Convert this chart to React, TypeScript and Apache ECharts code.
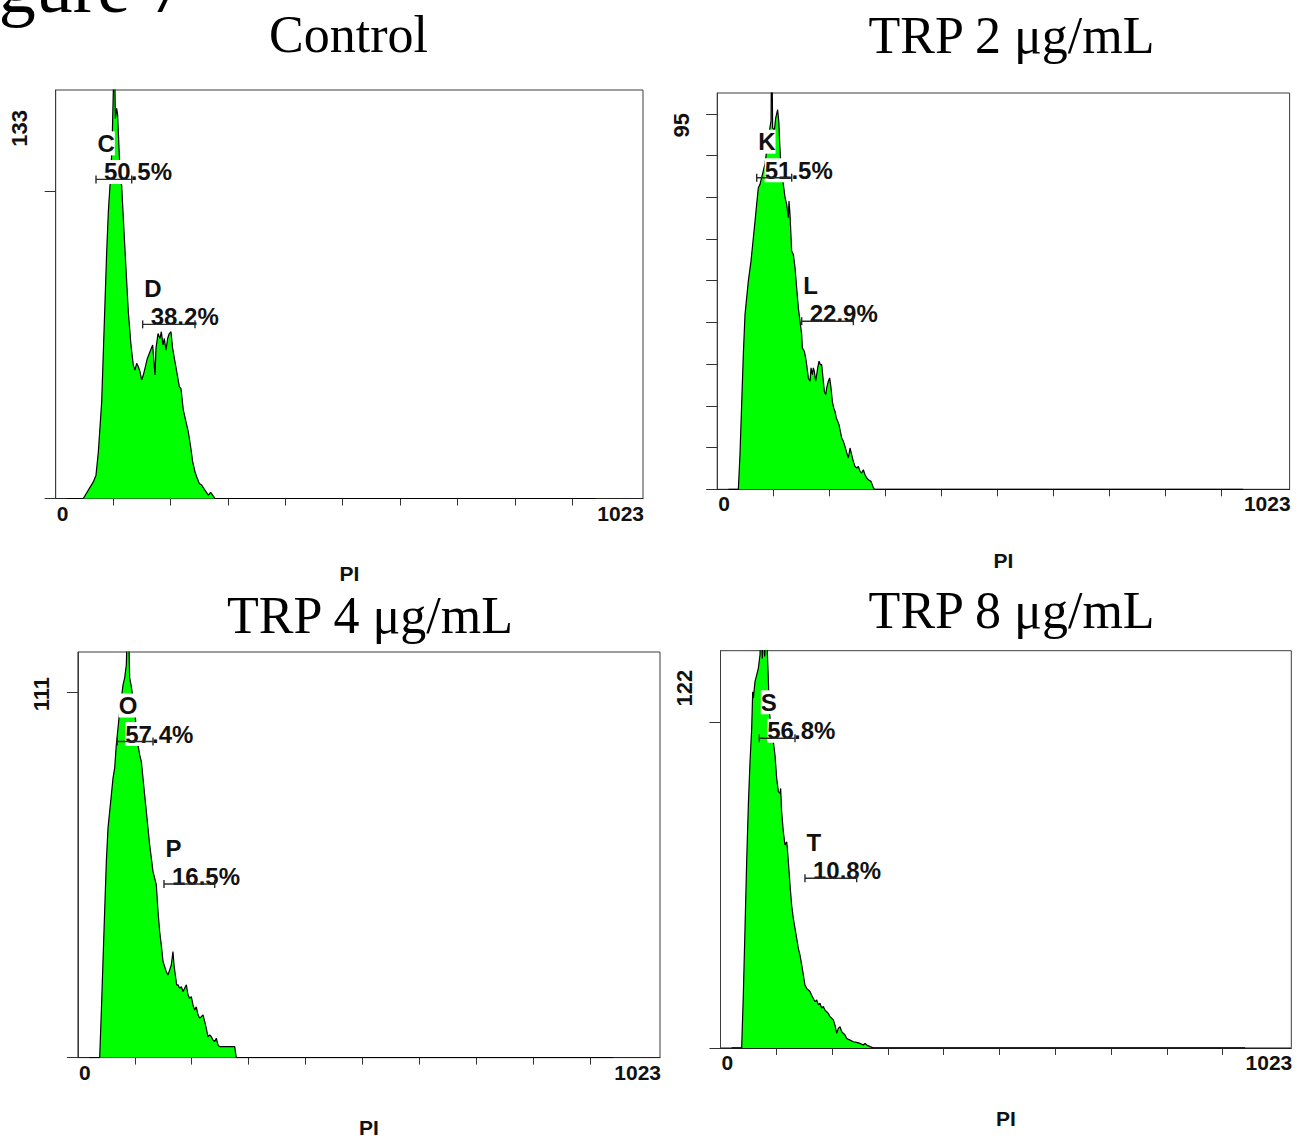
import React, { useEffect, useRef } from "react";
import * as echarts from "echarts";

// ---------------- data ----------------
const PANEL_TITLES = ["Control", "TRP 2 μg/mL", "TRP 4 μg/mL", "TRP 8 μg/mL"];
const FIGURE_LABEL = "Figure 7";
const AXIS_NAME = "PI";
const X_MIN = 0;
const X_MAX = 1023;
const X_TICKS = [100, 200, 300, 400, 500, 600, 700, 800, 900];
const X_TICK_LABELS = ["0", "1023"];
const Y_MAX = [133, 95, 111, 122];
const Y_TICKS = [
  [0, 100],
  [0, 10, 20, 30, 40, 50, 60, 70, 80, 90],
  [0, 100],
  [0, 100],
];

// [PI channel, count]
const controlHist = [
  [20, 0], [48, 0], [65.5, 5.4], [70.2, 7.6], [74.3, 15.2], [80.1, 31.5], [83, 47.8], [85.9, 64.1],
  [88.8, 80.3], [91.7, 93.4], [94.6, 102], [95.7, 103.1], [98.6, 118.3], [100.4, 133], [102.1, 150],
  [103.9, 123.7], [106.2, 127], [107.9, 124.8], [110.8, 111.8], [113.2, 103.1], [114.9, 102],
  [117.8, 91.2], [122.4, 74.9], [126.5, 60.8], [131.1, 50], [135.2, 43.4], [138.1, 41.8], [141, 44],
  [143.9, 42.9], [146.8, 41.3], [149.7, 38.6], [152.6, 40.2], [155.5, 42.4], [159.6, 45.6],
  [164.2, 47.8], [168.9, 50], [173, 40.2], [174.7, 48.9], [178.2, 53.7], [181.7, 52.1], [184, 54.3],
  [186.9, 50], [189.2, 52.1], [192.1, 48.3], [195, 52.1], [197.9, 53.7], [200.8, 54.3], [203.7, 48.9],
  [207.8, 44.5], [211.9, 40.2], [215.3, 36.4], [218.2, 35.8], [222.3, 28.8], [226.9, 25], [231, 21.7],
  [235.1, 16.8], [238.6, 12], [242.6, 8.7], [245.5, 7.1], [250.2, 4.9], [254.2, 4.4], [260, 2.7],
  [265.8, 1.1], [269.9, 2], [273.4, 1.1], [277.4, 0], [940, 0],
];

const trp2Hist = [
  [20, 0], [37.8, 0], [40.7, 8.3], [43.7, 20.3], [46.7, 32.3], [49.7, 41.9], [55.6, 49.9], [60.4, 54.7],
  [64.6, 60.3], [67.6, 64.3], [70.5, 68.3], [73.5, 72.3], [76.5, 73.1], [85.4, 78], [91.4, 84.3],
  [96.2, 88.3], [97.4, 110], [99.1, 86.7], [102.1, 85.9], [104.5, 89], [108, 91], [110.2, 88],
  [111.8, 82.7], [114, 77.1], [118.2, 73.1], [121.2, 70], [124.2, 68.3], [127.1, 65.1], [128.3, 69.1],
  [130.1, 65.9], [133.1, 57.1], [136.1, 56.3], [139.1, 53.1], [142, 48.3], [145, 43.5], [148, 40.3],
  [151, 37.1], [152.2, 33.9], [155.7, 33.1], [158.1, 31.5], [159.9, 29.9], [162.9, 26.7], [165.9, 25.9],
  [167.7, 29.1], [170, 27.5], [171.8, 29.1], [173.6, 28.3], [176, 25.9], [179.6, 29.1], [182, 30.7],
  [184.3, 29.9], [186.7, 29.9], [189.1, 26.7], [191.5, 23.5], [193.9, 22.7], [195.7, 24.3],
  [198.6, 25.9], [201, 26.7], [203.4, 24.3], [205.8, 21.1], [208.2, 19.5], [210.5, 18.7], [212.9, 17.1],
  [215.3, 16.3], [217.7, 15.5], [220.1, 13.9], [222.5, 12.3], [225.5, 11.5], [228.4, 10.3],
  [230.8, 9.1], [234.4, 7.5], [237.4, 9.9], [240.3, 8.3], [243.3, 6.7], [246.3, 5.5], [249.3, 5.1],
  [252.3, 5.5], [255.2, 4.3], [258.2, 3.9], [261.2, 4.7], [264.2, 3.5], [267.2, 2.7], [270.1, 2.3],
  [274.9, 1.9], [279.1, 0.4], [280.9, 0], [940, 0],
];

const trp4Hist = [
  [20, 0], [38.3, 0], [41.2, 12.6], [44.1, 26.3], [47, 40], [50, 53.7], [52.9, 62.8], [55.8, 67.3],
  [58.8, 71.9], [61.7, 76.5], [64.6, 79.2], [67.5, 85.6], [73.4, 94.7], [79.3, 102], [82.2, 103.9],
  [85.1, 107.5], [88, 125], [91, 103.9], [93.9, 101.6], [99.8, 94.7], [105.6, 85.6], [108.5, 82.9],
  [111.5, 81], [114.4, 76.5], [117.3, 71.9], [120.3, 67.3], [123.2, 62.8], [126.1, 58.2], [129.1, 54.6],
  [132, 50.9], [134.9, 49.1], [137.8, 47.3], [140.8, 40], [143.7, 34.5], [146.6, 30.8], [149.6, 26.3],
  [152.5, 24.9], [155.4, 23.5], [158.3, 22.6], [161.3, 24], [164.2, 25.4], [167.1, 29], [168.9, 25.4],
  [171.2, 22.6], [173.6, 19.9], [175.9, 19.9], [178.8, 19], [181.8, 19.4], [184.7, 18.1], [187.6, 19],
  [190.6, 19.9], [193.5, 17.2], [196.4, 16.2], [199.3, 16.7], [202.3, 14.4], [205.2, 13], [208.1, 13.9],
  [211.1, 11.7], [214, 10.8], [216.9, 11.2], [219.9, 11.7], [222.8, 9.9], [225.7, 8], [228.6, 5.7],
  [231.6, 6.2], [234.5, 5.7], [237.4, 4.8], [240.4, 4.4], [243.3, 5.3], [246.2, 3.5], [249.1, 3],
  [275.5, 3], [278.4, 0], [940, 0],
];

const trp8Hist = [
  [20, 0], [37.9, 0], [40.9, 16.2], [43.9, 36.7], [46.9, 57.2], [49.9, 74.6], [52.9, 87.9], [55.9, 98.1],
  [57.7, 109.4], [58.9, 107.4], [61.8, 112.5], [64.8, 114.5], [67.8, 116.6], [70.8, 120.7], [72.6, 130],
  [75, 119.6], [76.8, 130], [79.2, 120.2], [81.6, 130], [83.9, 121.7], [85.7, 113.5], [87.5, 103.3],
  [91.7, 97.1], [94.7, 94], [97.7, 89.9], [100.7, 82.8], [103.7, 78.7], [106.6, 78.2], [107.8, 79.7],
  [109.6, 72.5], [112.6, 66.4], [115.6, 62.3], [118.6, 63.3], [119.8, 61.3], [121.6, 57.2], [124.6, 50],
  [127.5, 43.9], [130.5, 39.8], [133.5, 36.7], [136.5, 33.7], [139.5, 30.6], [142.5, 28.5], [145.5, 25.5],
  [148.5, 22.4], [151.4, 19.3], [154.4, 18.3], [157.4, 17.8], [160.4, 17.3], [163.4, 16.2], [166.4, 15.2],
  [169.4, 14.2], [172.4, 14.7], [175.3, 13.2], [178.3, 13.7], [181.3, 12.2], [184.3, 12.7], [187.3, 11.6],
  [190.3, 11.1], [193.3, 10.6], [196.2, 9.6], [199.2, 9.1], [202.2, 8.6], [205.2, 7], [208.2, 4.5],
  [211.2, 6], [214.2, 6.5], [217.2, 5], [220.1, 4.5], [223.1, 4], [226.1, 2.9], [232.1, 2.4], [238.1, 1.9],
  [244, 1.7], [250, 1.4], [256, 0.9], [259, 1.4], [262, 0.9], [268, 0.4], [273.9, 0], [940, 0],
];

// gate markers: [letter, from channel, to channel, count level, percentage]
const controlGates = [["C", 70.2, 132.4, 103.9, "50.5%"], ["D", 151.5, 242.6, 56.7, "38.2%"]];
const trp2Gates = [["K", 70.6, 133.1, 74.7, "51.5%"], ["L", 151, 243.3, 40.3, "22.9%"]];
const trp4Gates = [["O", 69.2, 132, 86.5, "57.4%"], ["P", 151.3, 240.4, 47.5, "16.5%"]];
const trp8Gates = [["S", 69.5, 133.5, 95.1, "56.8%"], ["T", 151.4, 244.1, 52.1, "10.8%"]];

const HISTS = [controlHist, trp2Hist, trp4Hist, trp8Hist];
const GATES = [controlGates, trp2Gates, trp4Gates, trp8Gates];

// ---------------- layout / style ----------------
const GRID_BOXES = [
  { left: 55.7, top: 90, width: 587.3, height: 408.5 },
  { left: 717.2, top: 93, width: 572.4, height: 396.3 },
  { left: 77.9, top: 652, width: 582.1, height: 405.6 },
  { left: 720.5, top: 650.7, width: 570.8, height: 397.2 },
];
const TITLE_POS = [[348.5, 34], [1011.5, 35.4], [370, 615.7], [1011.6, 610.3]];
const NAME_GAP = [64, 61, 59, 60];
const Y_LABEL_DROP = [20, 20, 25, 19];
const SANS = '"Liberation Sans", Arial, sans-serif';
const SERIF = '"Liberation Serif", "Times New Roman", serif';
const GREEN = "#00ff00";

export default function App() {
  const ref = useRef<HTMLDivElement>(null);

  useEffect(() => {
    const el = ref.current;
    if (!el) return;
    const chart = echarts.init(el, null, { renderer: "svg" });

    const grid = GRID_BOXES.map((b) => ({
      left: b.left,
      top: b.top,
      width: b.width,
      height: b.height,
      show: true,
      borderColor: "#3c3c3c",
      borderWidth: 1,
      containLabel: false,
    }));

    const xAxis = GRID_BOXES.map((_, i) => ({
      type: "value",
      gridIndex: i,
      min: X_MIN,
      max: X_MAX,
      splitLine: { show: false },
      axisLine: { show: true, onZero: false, lineStyle: { color: "#222", width: 1 } },
      axisTick: { show: true, length: 7, customValues: X_TICKS, lineStyle: { color: "#333", width: 1 } },
      axisLabel: { show: false },
      name: AXIS_NAME,
      nameLocation: "middle",
      nameGap: NAME_GAP[i],
      nameTextStyle: { fontFamily: SANS, fontWeight: "bold", fontSize: 21, color: "#111" },
    }));

    const yAxis = GRID_BOXES.map((_, i) => ({
      type: "value",
      gridIndex: i,
      min: 0,
      max: Y_MAX[i],
      splitLine: { show: false },
      axisLine: { show: true, onZero: false, lineStyle: { color: "#3c3c3c", width: 1 } },
      axisTick: { show: true, length: 11, customValues: Y_TICKS[i], lineStyle: { color: "#333", width: 1 } },
      axisLabel: { show: false },
    }));

    const histSeries = HISTS.map((h, i) => ({
      type: "line",
      xAxisIndex: i,
      yAxisIndex: i,
      data: h,
      symbol: "none",
      showSymbol: false,
      clip: true,
      z: 2,
      lineStyle: { color: "#000", width: 1.2 },
      areaStyle: { color: GREEN, opacity: 1 },
    }));

    const gateSeries = GATES.map((gates, i) => ({
      type: "custom",
      xAxisIndex: i,
      yAxisIndex: i,
      z: 5,
      clip: false,
      data: gates.map((g) => [g[1], g[2], g[3]]),
      renderItem: (params: any, api: any) => {
        const gate = gates[params.dataIndex];
        const a = api.coord([api.value(0), api.value(2)]);
        const b = api.coord([api.value(1), api.value(2)]);
        const lineStyle = { stroke: "#2a2a2a", lineWidth: 1.4 };
        return {
          type: "group",
          children: [
            {
              type: "text",
              style: {
                text: gate[0],
                x: a[0] + 1.5,
                y: a[1] - 36,
                align: "left",
                verticalAlign: "middle",
                font: `bold 24px ${SANS}`,
                fill: "#111",
                backgroundColor: "#fff",
              },
            },
            {
              type: "text",
              style: {
                text: gate[4],
                x: a[0] + 8,
                y: a[1] - 7.5,
                align: "left",
                verticalAlign: "middle",
                font: `bold 24px ${SANS}`,
                fill: "#111",
                backgroundColor: "#fff",
              },
            },
            { type: "line", shape: { x1: a[0], y1: a[1], x2: b[0], y2: b[1] }, style: lineStyle },
            { type: "line", shape: { x1: a[0], y1: a[1] - 4, x2: a[0], y2: a[1] + 4 }, style: lineStyle },
            { type: "line", shape: { x1: b[0], y1: b[1] - 4, x2: b[0], y2: b[1] + 4 }, style: lineStyle },
          ],
        };
      },
    }));

    chart.setOption({
      animation: false,
      backgroundColor: "#fff",
      grid,
      xAxis,
      yAxis,
      series: [...histSeries, ...gateSeries],
    });

    const graphics: any[] = [
      {
        type: "text",
        x: -63,
        y: -13,
        style: { text: FIGURE_LABEL, font: `74px ${SERIF}`, fill: "#000", align: "left", verticalAlign: "middle" },
      },
    ];
    GRID_BOXES.forEach((_, i) => {
      const tl = chart.convertToPixel({ gridIndex: i } as any, [X_MIN, Y_MAX[i]]) as number[];
      const br = chart.convertToPixel({ gridIndex: i } as any, [X_MAX, 0]) as number[];
      graphics.push({
        type: "text",
        x: TITLE_POS[i][0],
        y: TITLE_POS[i][1],
        style: { text: PANEL_TITLES[i], font: `52px ${SERIF}`, fill: "#000", align: "center", verticalAlign: "middle" },
      });
      graphics.push({
        type: "text",
        x: tl[0] - 36,
        y: tl[1] + Y_LABEL_DROP[i],
        rotation: Math.PI / 2,
        style: { text: String(Y_MAX[i]), font: `bold 22px ${SANS}`, fill: "#111", align: "right", verticalAlign: "middle" },
      });
      graphics.push({
        type: "text",
        x: tl[0] + 1,
        y: br[1] + 4,
        style: { text: X_TICK_LABELS[0], font: `bold 21px ${SANS}`, fill: "#111", align: "left", verticalAlign: "top" },
      });
      graphics.push({
        type: "text",
        x: br[0] + 1,
        y: br[1] + 4,
        style: { text: X_TICK_LABELS[1], font: `bold 21px ${SANS}`, fill: "#111", align: "right", verticalAlign: "top" },
      });
    });
    chart.setOption({ graphic: graphics });

    return () => chart.dispose();
  }, []);

  return (
    <div
      ref={ref}
      style={{ position: "absolute", left: 0, top: 0, width: 1301, height: 1143, background: "#fff" }}
    />
  );
}
